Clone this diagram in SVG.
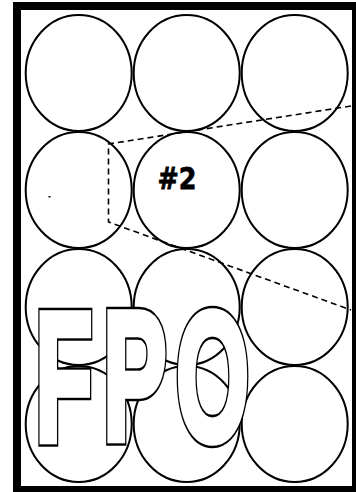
<svg xmlns="http://www.w3.org/2000/svg" width="356" height="492" viewBox="0 0 356 492">
<style>
.c{fill:none;stroke:#000;stroke-width:2}
.d{fill:none;stroke:#000;stroke-width:1.6;stroke-dasharray:6 4}
.g{font-family:"Liberation Sans",Arial,sans-serif;font-weight:bold;font-size:184px;stroke-linejoin:miter;stroke-miterlimit:4;vector-effect:non-scaling-stroke}
.ob{fill:#000;stroke:#000;stroke-width:10}
.iw{fill:#fff;stroke:#fff;stroke-width:6}
.lbl{font-family:"DejaVu Sans",Arial,sans-serif;font-weight:bold;font-size:30px;fill:#000;stroke:#000;stroke-width:0.8}
</style>
<defs>
<text id="tF" class="g" x="0" y="0">F</text>
<text id="tP" class="g" x="0" y="0">P</text>
<text id="tO" class="g" x="0" y="0">O</text>
</defs>
<rect width="356" height="492" fill="#fff"/>
<g id="circles">
<g id="c11"><ellipse class="c" cx="78.7" cy="73" rx="53" ry="58"/></g>
<g id="c12"><ellipse class="c" cx="186.7" cy="73" rx="53" ry="58"/></g>
<g id="c13"><ellipse class="c" cx="294.7" cy="73" rx="53" ry="58"/></g>
<g id="c21"><ellipse class="c" cx="78.7" cy="190" rx="53" ry="58"/></g>
<g id="c22"><ellipse class="c" cx="186.7" cy="190" rx="53" ry="58"/><text class="lbl" x="157.5" y="189" textLength="39" lengthAdjust="spacingAndGlyphs">#2</text></g>
<g id="c23"><ellipse class="c" cx="294.7" cy="190" rx="53" ry="58"/></g>
<g id="c31"><ellipse class="c" cx="78.7" cy="307" rx="53" ry="58"/></g>
<g id="c32"><ellipse class="c" cx="186.7" cy="307" rx="53" ry="58"/></g>
<g id="c33"><ellipse class="c" cx="294.7" cy="307" rx="53" ry="58"/></g>
<g id="c41"><ellipse class="c" cx="78.7" cy="424" rx="53" ry="58"/></g>
<g id="c42"><ellipse class="c" cx="186.7" cy="424" rx="53" ry="58"/></g>
<g id="c43"><ellipse class="c" cx="294.7" cy="424" rx="53" ry="58"/></g>
</g>
<rect x="48.5" y="196" width="2" height="1.5" fill="#000"/>
<g id="connectors">
<path class="d" d="M351 106 L108.5 144 L108.5 222 L351 310"/>
</g>
<g id="fpo">
<g transform="translate(35.15 440) scale(0.510 1)"><use href="#tF" class="ob"/><use href="#tF" class="iw"/></g>
<g transform="translate(103 440) scale(0.519 1)"><use href="#tP" class="ob"/><use href="#tP" class="iw"/></g>
<g transform="translate(176 440) scale(0.511 1)"><use href="#tO" class="ob"/><use href="#tO" class="iw"/></g>
</g>
<rect x="17" y="6" width="339" height="484" fill="none" stroke="#000" stroke-width="8"/>
</svg>
